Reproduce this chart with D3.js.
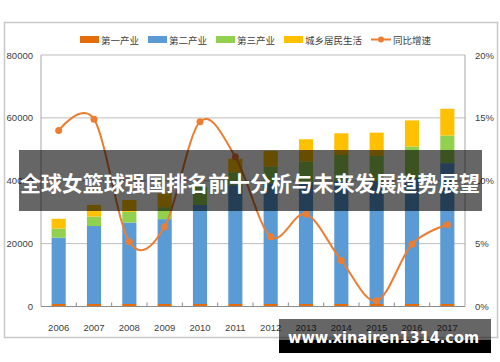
<!DOCTYPE html>
<html>
<head>
<meta charset="utf-8">
<script src="https://cdn.jsdelivr.net/npm/d3@7"></script>
<style>
  body { margin: 0; background: #fff; }
  svg { display: block; }
</style>
</head>
<body>
<svg width="500" height="362"></svg>
<script>
// data
var years = ["2006", "2007", "2008", "2009", "2010", "2011", "2012", "2013", "2014", "2015", "2016", "2017"];
var primary = [800, 800, 800, 800, 800, 800, 800, 800, 800, 800, 800, 800];
var secondary = [21100, 24800, 25900, 27000, 31500, 37800, 38400, 38900, 39100, 39100, 40100, 44800];
var tertiary = [2900, 3000, 3400, 3800, 5800, 4100, 5300, 6400, 8300, 8000, 10000, 8800];
var household = [3100, 3700, 3800, 4400, 0, 4300, 5000, 7100, 6900, 7400, 8300, 8500];
var growth = [14.0, 14.9, 5.15, 6.35, 14.7, 11.9, 5.55, 7.35, 3.65, 0.45, 4.95, 6.5];
var leftTicks = [0, 20000, 40000, 60000, 80000];
var rightTicks = [0, 5, 10, 15, 20];
var seriesNames = ["第一产业", "第二产业", "第三产业", "城乡居民生活"];
var lineName = "同比增速";
var title = "全球女篮球强国排名前十分析与未来发展趋势展望";
var watermark = "www.xinairen1314.com";

var colors = ["#E46C0A", "#5B9BD5", "#92D050", "#FFC000"];
var lineColor = "#ED7D31";
var font = "'Liberation Sans', Arial, sans-serif";
var cjk = "'Noto Sans CJK SC', sans-serif";

var svg = d3.select("svg"),
    margin = { left: 41, right: 35, top: 55, bottom: 55.5 },
    width = +svg.attr("width"),
    height = +svg.attr("height");

// outer frame
svg.append("rect")
    .attr("x", 4.5).attr("y", 22.5)
    .attr("width", 493).attr("height", 315)
    .attr("fill", "#fff")
    .attr("stroke", "#C8C8C8")
    .attr("stroke-width", 1.5);

var x = d3.scaleBand()
    .domain(years)
    .range([margin.left, width - margin.right])
    .paddingInner(0.6)
    .paddingOuter(0.3);

var y = d3.scaleLinear()
    .domain([0, 80000])
    .range([height - margin.bottom, margin.top]);

var y2 = d3.scaleLinear()
    .domain([0, 20])
    .range([height - margin.bottom, margin.top]);

// gridlines
svg.append("g")
    .selectAll("line")
    .data(leftTicks.slice(1))
    .enter().append("line")
    .attr("x1", margin.left).attr("x2", width - margin.right)
    .attr("y1", function (d) { return y(d); })
    .attr("y2", function (d) { return y(d); })
    .attr("stroke", "#BDBDBD")
    .attr("stroke-width", 1);

// side axis lines
[margin.left, width - margin.right].forEach(function (px) {
    svg.append("line")
        .attr("x1", px).attr("x2", px)
        .attr("y1", margin.top).attr("y2", y(0))
        .attr("stroke", "#A6A6A6");
});

// left axis
var yAxis = svg.append("g")
    .attr("transform", "translate(" + margin.left + ",0)")
    .call(d3.axisLeft(y).tickValues(leftTicks).tickSize(0).tickPadding(8)
        .tickFormat(d3.format("d")));
yAxis.select(".domain").remove();
yAxis.selectAll("text")
    .attr("font-family", font).attr("font-size", "9.5px").attr("fill", "#404040");

// right axis
var y2Axis = svg.append("g")
    .attr("transform", "translate(" + (width - margin.right) + ",0)")
    .call(d3.axisRight(y2).tickValues(rightTicks).tickSize(0).tickPadding(10)
        .tickFormat(function (d) { return d + "%"; }));
y2Axis.select(".domain").remove();
y2Axis.selectAll("text")
    .attr("font-family", font).attr("font-size", "9.5px").attr("fill", "#404040");

// stacked bars
var rows = years.map(function (yr, i) {
    return { year: yr, s0: primary[i], s1: secondary[i], s2: tertiary[i], s3: household[i] };
});
var stack = d3.stack().keys(["s0", "s1", "s2", "s3"]);
var layers = stack(rows);

svg.append("g")
    .selectAll("g")
    .data(layers)
    .enter().append("g")
    .attr("fill", function (d, i) { return colors[i]; })
    .selectAll("rect")
    .data(function (d) { return d; })
    .enter().append("rect")
    .attr("x", function (d) { return x(d.data.year); })
    .attr("width", x.bandwidth())
    .attr("y", function (d) { return y(d[1]); })
    .attr("height", function (d) { return y(d[0]) - y(d[1]); });

// x axis line and ticks
svg.append("line")
    .attr("x1", margin.left).attr("x2", width - margin.right)
    .attr("y1", y(0)).attr("y2", y(0))
    .attr("stroke", "#8C8C8C");

var step = x.step();
svg.append("g")
    .selectAll("line")
    .data(years.slice(1))
    .enter().append("line")
    .attr("x1", function (d) { return x(d) - step * 0.3; })
    .attr("x2", function (d) { return x(d) - step * 0.3; })
    .attr("y1", y(0) - 4).attr("y2", y(0))
    .attr("stroke", "#8C8C8C");

svg.append("g")
    .selectAll("text")
    .data(years)
    .enter().append("text")
    .attr("x", function (d) { return x(d) + x.bandwidth() / 2; })
    .attr("y", 330.5)
    .attr("text-anchor", "middle")
    .attr("font-family", font).attr("font-size", "9.5px").attr("fill", "#404040")
    .text(function (d) { return d; });

// growth line
var line = d3.line()
    .x(function (d, i) { return x(years[i]) + x.bandwidth() / 2; })
    .y(function (d) { return y2(d); })
    .curve(d3.curveCardinal.tension(0));

svg.append("path")
    .datum(growth)
    .attr("d", line)
    .attr("fill", "none")
    .attr("stroke", lineColor)
    .attr("stroke-width", 2);

svg.append("g")
    .selectAll("circle")
    .data(growth)
    .enter().append("circle")
    .attr("cx", function (d, i) { return x(years[i]) + x.bandwidth() / 2; })
    .attr("cy", function (d) { return y2(d); })
    .attr("r", 3.5)
    .attr("fill", lineColor);

// legend
var legend = svg.append("g").attr("class", "legend");
var lx = 80, ly = 39.5, charW = 9.5;
seriesNames.forEach(function (name, i) {
    legend.append("rect")
        .attr("x", lx).attr("y", ly - 3.5)
        .attr("width", 19).attr("height", 7)
        .attr("fill", colors[i]);
    legend.append("text")
        .attr("x", lx + 21).attr("y", ly)
        .attr("dominant-baseline", "central")
        .attr("font-family", cjk).attr("font-size", charW + "px").attr("fill", "#404040")
        .text(name);
    lx += 21 + name.length * charW + 9;
});
legend.append("line")
    .attr("x1", lx).attr("x2", lx + 20)
    .attr("y1", ly).attr("y2", ly)
    .attr("stroke", lineColor).attr("stroke-width", 2);
legend.append("circle")
    .attr("cx", lx + 10).attr("cy", ly).attr("r", 3)
    .attr("fill", lineColor);
legend.append("text")
    .attr("x", lx + 22).attr("y", ly)
    .attr("dominant-baseline", "central")
    .attr("font-family", cjk).attr("font-size", charW + "px").attr("fill", "#404040")
    .text(lineName);

// title banner over the chart
svg.append("rect")
    .attr("x", 19).attr("y", 150)
    .attr("width", 463).attr("height", 61)
    .attr("fill", "rgba(0,0,0,0.6)");
svg.append("text")
    .attr("x", 20).attr("y", 182)
    .attr("textLength", 460)
    .attr("lengthAdjust", "spacingAndGlyphs")
    .attr("dominant-baseline", "central")
    .attr("font-family", cjk).attr("font-weight", "bold").attr("font-size", "21px")
    .attr("fill", "#fff")
    .text(title);

// watermark
svg.append("rect")
    .attr("x", 279).attr("y", 319)
    .attr("width", 212).attr("height", 20.5)
    .attr("fill", "rgba(0,0,0,0.6)");
svg.append("rect")
    .attr("x", 279).attr("y", 339.5)
    .attr("width", 212).attr("height", 13.5)
    .attr("fill", "#000");
svg.append("text")
    .attr("x", 288).attr("y", 342.5)
    .attr("textLength", 191)
    .attr("lengthAdjust", "spacingAndGlyphs")
    .attr("font-family", "'DejaVu Sans', sans-serif").attr("font-weight", "bold").attr("font-size", "16px")
    .attr("fill", "#fff")
    .text(watermark);
</script>
</body>
</html>
